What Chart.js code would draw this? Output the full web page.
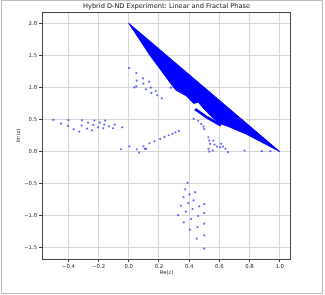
<!DOCTYPE html>
<html>
<head>
<meta charset="utf-8">
<script src="https://cdn.jsdelivr.net/npm/chart.js@4.4.1/dist/chart.umd.min.js"></script>
<style>
    html, body { margin: 0; padding: 0; background: #fff; }
    canvas { display: block; }
</style>
</head>
<body>
<canvas id="chart" width="325" height="295"></canvas>
<script>
const chartTitle = 'Hybrid D-ND Experiment: Linear and Fractal Phase';
const xLabel = 'Re(z)';
const yLabel = 'Im(z)';
const xTicks = [ -0.4, -0.2, 0.0, 0.2, 0.4, 0.6, 0.8, 1.0 ];
const yTicks = [ -1.5, -1.0, -0.5, 0.0, 0.5, 1.0, 1.5, 2.0 ];
const xRange = [ -0.575, 1.075 ];
const yRange = [ -1.675, 2.175 ];

const wedgeTop = [ [ 0, 2 ], [ 1, 0 ] ];
const wedgeBottom = [
    [ 0, 2 ], [ 0.14, 1.5 ], [ 0.31, 0.96 ], [ 0.38, 0.87 ], [ 0.43, 0.75 ], [ 0.46, 0.77 ],
    [ 0.5, 0.66 ], [ 0.55, 0.54 ], [ 0.6, 0.44 ], [ 0.66, 0.39 ], [ 0.78, 0.27 ], [ 1, 0 ]
];
const wedgeRidge = [ [ 0.44, 0.66 ], [ 0.52, 0.53 ], [ 0.61, 0.41 ] ];

// fractal phase: scattered points
const leftCluster = [
    [ -0.500, 0.493 ], [ -0.449, 0.435 ], [ -0.403, 0.399 ], [ -0.400, 0.490 ], [ -0.365, 0.347 ],
    [ -0.328, 0.311 ], [ -0.310, 0.487 ], [ -0.312, 0.404 ], [ -0.277, 0.358 ], [ -0.270, 0.451 ],
    [ -0.244, 0.332 ], [ -0.235, 0.415 ], [ -0.228, 0.482 ], [ -0.204, 0.378 ], [ -0.192, 0.451 ],
    [ -0.169, 0.363 ], [ -0.162, 0.420 ], [ -0.157, 0.482 ], [ -0.131, 0.394 ], [ -0.104, 0.363 ],
    [ -0.093, 0.420 ], [ -0.044, 0.378 ]
];
const upperCluster = [
    [ 0.002, 1.302 ], [ 0.050, 1.224 ], [ 0.095, 1.140 ], [ 0.053, 1.104 ], [ 0.135, 1.089 ],
    [ 0.097, 1.058 ], [ 0.037, 1.000 ], [ 0.050, 1.016 ], [ 0.113, 0.969 ], [ 0.146, 0.995 ],
    [ 0.179, 0.944 ], [ 0.150, 0.913 ], [ 0.188, 0.876 ], [ 0.219, 0.829 ], [ 0.279, 0.995 ]
];
const risingArm = [
    [ -0.051, 0.036 ], [ 0.004, 0.082 ], [ 0.053, 0.036 ], [ 0.068, -0.016 ], [ 0.097, 0.082 ],
    [ 0.106, 0.042 ], [ 0.115, 0.042 ], [ 0.137, 0.129 ], [ 0.170, 0.160 ], [ 0.208, 0.197 ],
    [ 0.236, 0.228 ], [ 0.265, 0.254 ], [ 0.289, 0.275 ], [ 0.309, 0.300 ], [ 0.332, 0.322 ]
];
const rightBase = [
    [ 0.528, 0.223 ], [ 0.533, 0.171 ], [ 0.539, 0.120 ], [ 0.561, 0.171 ], [ 0.568, 0.109 ],
    [ 0.612, 0.120 ], [ 0.606, 0.067 ], [ 0.624, 0.078 ], [ 0.528, 0.042 ], [ 0.533, 0.000 ],
    [ 0.557, 0.016 ], [ 0.584, 0.078 ], [ 0.641, 0.042 ], [ 0.657, -0.010 ], [ 0.767, 0.016 ],
    [ 0.882, 0.005 ], [ 0.938, 0.005 ]
];
const lowerCluster = [
    [ 0.389, -0.487 ], [ 0.374, -0.591 ], [ 0.440, -0.633 ], [ 0.402, -0.669 ], [ 0.363, -0.710 ],
    [ 0.429, -0.762 ], [ 0.394, -0.804 ], [ 0.500, -0.820 ], [ 0.345, -0.845 ], [ 0.467, -0.855 ],
    [ 0.422, -0.897 ], [ 0.378, -0.938 ], [ 0.500, -0.960 ], [ 0.327, -0.990 ], [ 0.460, -1.006 ],
    [ 0.413, -1.053 ], [ 0.365, -1.104 ], [ 0.500, -1.125 ], [ 0.405, -1.218 ], [ 0.455, -1.177 ],
    [ 0.500, -1.306 ], [ 0.451, -1.358 ], [ 0.500, -1.513 ]
];
const wedgeFringe = [
    [ 0.430, 0.510 ], [ 0.460, 0.480 ], [ 0.480, 0.430 ], [ 0.500, 0.350 ], [ 0.495, 0.389 ]
];

const toXY = pts => pts.map( p => ( { x: p[ 0 ], y: p[ 1 ] } ) );
const fmt = v => v.toFixed( 1 ).replace( '-', '\u2212' );

Chart.defaults.font.family = '"DejaVu Sans", sans-serif';
Chart.defaults.color = '#222';
Chart.defaults.animation = false;

// title centred over the axes, matplotlib-like spines and the outer figure frame
const framePlugin = {
    id: 'frame',
    afterDatasetsDraw ( chart ) {
        const { ctx, chartArea: a } = chart;
        ctx.save();
        ctx.strokeStyle = '#444';
        ctx.lineWidth = 1;
        ctx.strokeRect( a.left + 0.5, a.top + 0.5, a.right - a.left - 1, a.bottom - a.top );
        ctx.strokeStyle = '#bbb';
        ctx.strokeRect( 1.5, 0.5, 321, 293 );
        ctx.fillStyle = '#111';
        ctx.font = '6.6px "DejaVu Sans", sans-serif';
        ctx.textAlign = 'center';
        ctx.textBaseline = 'middle';
        ctx.fillText( chartTitle, ( a.left + a.right ) / 2, 6 );
        ctx.restore();
    }
};

const pointStyle = {
    type: 'scatter',
    pointRadius: 1.1,
    pointHoverRadius: 1.1,
    borderWidth: 0,
    backgroundColor: 'rgba(0, 0, 255, 0.6)'
};

const edgeStyle = {
    type: 'line',
    borderColor: '#0000ff',
    backgroundColor: '#0000ff',
    borderWidth: 1,
    pointRadius: 0,
    tension: 0
};

const scaleGrid = {
    color: '#d6d6d6',
    lineWidth: 1,
    tickColor: '#444',
    tickLength: 3,
    tickWidth: 1
};

new Chart( document.getElementById( 'chart' ), {
    type: 'scatter',
    data: {
        datasets: [
            { ...edgeStyle, data: toXY( wedgeTop ), fill: false },
            { ...edgeStyle, data: toXY( wedgeBottom ), fill: '-1' },
            { ...edgeStyle, data: toXY( wedgeRidge ), borderWidth: 2.7, fill: false },
            { ...pointStyle, data: toXY( leftCluster ) },
            { ...pointStyle, data: toXY( upperCluster ) },
            { ...pointStyle, data: toXY( risingArm ) },
            { ...pointStyle, data: toXY( rightBase ) },
            { ...pointStyle, data: toXY( lowerCluster ) },
            { ...pointStyle, data: toXY( wedgeFringe ) }
        ]
    },
    options: {
        responsive: false,
        events: [],
        layout: { padding: { left: 0, right: 34, top: 12, bottom: 18 } },
        plugins: {
            legend: { display: false },
            tooltip: { enabled: false },
            title: { display: false }
        },
        scales: {
            x: {
                type: 'linear',
                min: xRange[ 0 ],
                max: xRange[ 1 ],
                afterBuildTicks: s => { s.ticks = xTicks.map( v => ( { value: v } ) ); },
                afterFit: s => { s.height = 18; },
                grid: scaleGrid,
                border: { display: false },
                ticks: { font: { size: 5.3 }, padding: 1, maxRotation: 0, callback: fmt },
                title: { display: true, text: xLabel, font: { size: 5.2 }, padding: { top: 0, bottom: 1.3 } }
            },
            y: {
                type: 'linear',
                min: yRange[ 0 ],
                max: yRange[ 1 ],
                afterBuildTicks: s => { s.ticks = yTicks.map( v => ( { value: v } ) ); },
                afterFit: s => { s.width = 42; },
                grid: scaleGrid,
                border: { display: false },
                ticks: { font: { size: 5.3 }, padding: 2, callback: fmt },
                title: { display: true, text: yLabel, font: { size: 5.2 }, padding: { top: 16, bottom: 0 } }
            }
        }
    },
    plugins: [ framePlugin ]
} );
</script>
</body>
</html>
